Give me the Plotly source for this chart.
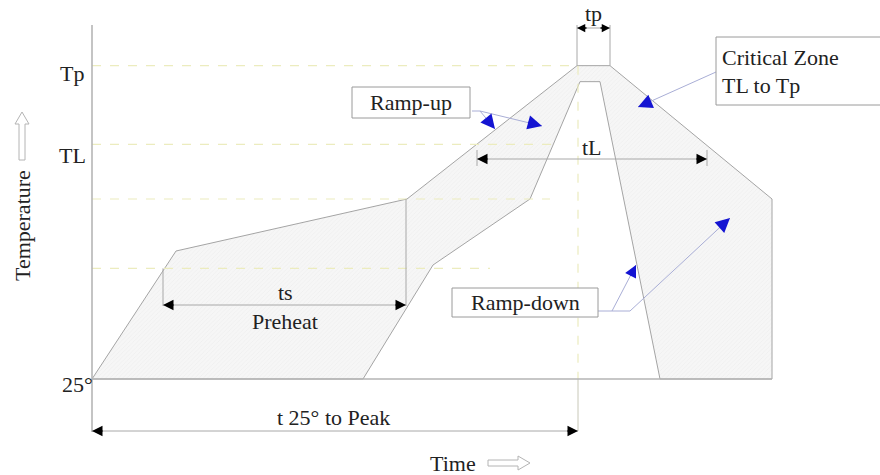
import plotly.graph_objects as go

# ---- schematic reflow profile data (time in s, temperature in °C, schematic units) ----
level_names = ["Tp", "TL", "Ts max", "Ts min", "25°"]
level_temps = [260, 201, 160, 108, 25]

upper_time = [0, 42, 157.5, 242.5, 259, 340, 340]
upper_temp = [25, 121, 160, 260, 260, 160, 25]
lower_time = [135.5, 170.5, 219, 244, 254, 284]
lower_temp = [25, 110.5, 160, 248, 248, 25]

ts_span = [35.5, 157]
tL_span = [192.5, 307.5]
tp_span = [242.5, 259]
t25_span = [0, 243]

TP, TL, TSMAX, TSMIN, T25 = level_temps


# layout helpers: pixel position -> axis units (for labels / boxes only)
def X(px):
    return (px - 92) / 2.0


def Y(py):
    return 25 + (379 - py) * 0.75


def PX(t):
    return 92 + 2.0 * t


def PY(T):
    return 379 - (T - 25) / 0.75


FONT = "Liberation Serif, Times New Roman, DejaVu Serif, serif"
TXT = "#222222"
GRAY = "#a8a8a8"
YEL = "#ececbe"
LEAD = "#a9aed6"
BLUE = "#1414d2"

fig = go.Figure()

poly_x = upper_time + lower_time[::-1] + [upper_time[0]]
poly_y = upper_temp + lower_temp[::-1] + [upper_temp[0]]
fig.add_trace(go.Scatter(
    x=poly_x, y=poly_y, mode="lines", fill="toself",
    fillcolor="#f5f5f5",
    fillpattern=dict(shape="/", bgcolor="#f6f6f6", fgcolor="#e2e2e2", size=3, solidity=0.2),
    line=dict(color="#a4a4a4", width=1), hoverinfo="skip"))

shapes = []


def line(x0, y0, x1, y1, color=GRAY, width=1, dash="solid"):
    shapes.append(dict(type="line", xref="x", yref="y", x0=x0, y0=y0, x1=x1, y1=y1,
                       line=dict(color=color, width=width, dash=dash), layer="above"))


# dashed level lines
line(0, TP, t25_span[1], TP, YEL, 1.2, "dash")
line(0, TL, X(560), TL, YEL, 1.2, "dash")
line(0, TSMAX, X(550), TSMAX, YEL, 1.2, "dash")
line(0, TSMIN, X(490), TSMIN, YEL, 1.2, "dash")
# vertical marker at peak time
line(t25_span[1], TP, t25_span[1], T25, YEL, 1.2, "dash")
line(t25_span[1], T25, t25_span[1], Y(431), "#c8c8b8", 1)

# y-axis line and baseline
line(0, Y(25), 0, Y(432), "#b0b0b0", 1.5)
line(0, T25, upper_time[-1], T25, "#b4b4b4", 1.5)

# ts dimension
line(ts_span[0], TSMIN, ts_span[0], Y(306), GRAY)
line(ts_span[1], TSMAX, ts_span[1], Y(306), GRAY)
line(ts_span[0], Y(305), ts_span[1], Y(305), GRAY)
# tL dimension
line(tL_span[0], Y(150), tL_span[0], Y(166), GRAY)
line(tL_span[1], Y(150), tL_span[1], Y(166), GRAY)
line(tL_span[0], Y(159), tL_span[1], Y(159), GRAY)
# tp dimension
line(tp_span[0], Y(25), tp_span[0], TP, GRAY)
line(tp_span[1], Y(25), tp_span[1], TP, GRAY)
line(tp_span[0], Y(28), tp_span[1], Y(28), GRAY)
# t 25 to peak
line(t25_span[0], Y(431), t25_span[1], Y(431), GRAY)

# leader lines
line(X(472), Y(111), X(480), Y(111), LEAD)
line(X(480), Y(111), X(495), Y(129), LEAD)
line(X(480), Y(111), X(542), Y(126), LEAD)
line(X(716), Y(72), X(638), Y(107), LEAD)
line(X(598), Y(311), X(630), Y(311), LEAD)
line(X(630), Y(311), X(730), Y(218), LEAD)
line(X(612), Y(311), X(636), Y(265), LEAD)

# boxes
for (a, b, c, d) in [(352, 87, 470, 118), (716, 37, 900, 105), (452, 288, 598, 317)]:
    shapes.append(dict(type="rect", xref="x", yref="y", x0=X(a), y0=Y(b), x1=X(c), y1=Y(d),
                       line=dict(color="#9a9a9a", width=1), fillcolor="white", layer="above"))


def hollow(pts):
    path = "M " + " L ".join(f"{X(p[0])},{Y(p[1])}" for p in pts) + " Z"
    shapes.append(dict(type="path", xref="x", yref="y", path=path,
                       line=dict(color="#b4b4b4", width=1), fillcolor="white", layer="above"))


hollow([(22, 112), (29, 124), (25, 124), (25, 160), (19, 160), (19, 124), (15, 124)])
hollow([(530, 463), (518, 456), (518, 460), (488, 460), (488, 466), (518, 466), (518, 470)])

annotations = []


def text(px, py, s, anchor="center", size=22, angle=0):
    annotations.append(dict(x=X(px), y=Y(py), xref="x", yref="y", text=s, showarrow=False,
                            xanchor=anchor, yanchor="middle", textangle=angle,
                            font=dict(family=FONT, size=size, color=TXT)))


def head(px, py, ax, ay, color="black", width=1.5, size=1.4):
    annotations.append(dict(x=X(px), y=Y(py), xref="x", yref="y", text="", showarrow=True,
                            ax=ax, ay=ay, arrowhead=2, arrowsize=size, arrowwidth=width,
                            arrowcolor=color, standoff=0))


# labels
text(72, 73, "Tp")
text(72, 155, "TL")
text(77, 384, "25°")
text(22, 226, "Temperature", angle=-90, size=22)
text(453, 463, "Time")
text(411, 102, "Ramp-up")
text(720, 57, "Critical Zone", anchor="left")
text(720, 85, "TL to Tp", anchor="left")
text(525, 302, "Ramp-down")
text(285, 292, "ts")
text(285, 321, "Preheat")
text(592, 147, "tL")
text(593, 13, "tp")
text(333, 417, "t 25° to Peak")

# dimension arrowheads (black)
head(PX(ts_span[0]), 305, 12, 0)
head(PX(ts_span[1]), 305, -12, 0)
head(PX(tL_span[0]), 159, 12, 0)
head(PX(tL_span[1]), 159, -12, 0)
head(PX(t25_span[0]), 431, 12, 0)
head(PX(t25_span[1]), 431, -12, 0)
head(PX(tp_span[0]), 28, 11, 0, size=1.1)
head(PX(tp_span[1]), 28, -11, 0, size=1.1)

# blue leader heads
head(495, 129, -9, -11, BLUE, 2.2, 1.3)
head(542, 126, -15, -4, BLUE, 2.2, 1.3)
head(638, 107, 14, -6, BLUE, 2.2, 1.3)
head(730, 218, -11, 10, BLUE, 2.2, 1.3)
head(636, 265, -6, 12, BLUE, 2.2, 1.1)

fig.update_layout(
    width=880, height=475, autosize=False,
    margin=dict(l=0, r=0, t=0, b=0),
    paper_bgcolor="white", plot_bgcolor="white",
    showlegend=False,
    shapes=shapes, annotations=annotations,
    xaxis=dict(range=[X(0), X(880)], visible=False, fixedrange=True),
    yaxis=dict(range=[Y(475), Y(0)], visible=False, fixedrange=True),
)

fig.write_html("out.html", config={"displayModeBar": False},
               post_script="document.body.style.margin='0';document.body.style.overflow='hidden';")
